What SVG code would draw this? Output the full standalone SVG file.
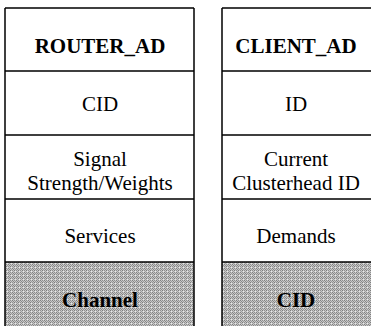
<svg xmlns="http://www.w3.org/2000/svg" width="371" height="326" viewBox="0 0 371 326">
<defs>
<pattern id="dither" width="4" height="4" patternUnits="userSpaceOnUse">
<rect width="4" height="4" fill="#c8c8c8"/>
<rect x="0" y="0" width="1" height="1" fill="#808080"/>
<rect x="2" y="0" width="1" height="1" fill="#909090"/>
<rect x="1" y="1" width="1" height="1" fill="#888"/>
<rect x="3" y="1" width="1" height="1" fill="#999"/>
<rect x="0" y="2" width="1" height="1" fill="#909090"/>
<rect x="2" y="2" width="1" height="1" fill="#7c7c7c"/>
<rect x="1" y="3" width="1" height="1" fill="#a0a0a0"/>
<rect x="3" y="3" width="1" height="1" fill="#e8e8e8"/>
</pattern>
</defs>
<style>
text{font-family:'Liberation Serif','Times New Roman',serif;font-size:21px;fill:#000;text-anchor:middle}
.b{font-weight:bold}
.ln{stroke:#000;stroke-width:1.5;fill:none}
.sh{fill:url(#dither)}
</style>
<rect width="371" height="326" fill="#fff"/>
<g id="router_ad">
<rect class="sh" x="5" y="262" width="189" height="64"/>
<path class="ln" d="M5,8 H194 M5,71 H194 M5,135 H194 M5,199 H194 M5,262 H194 M5,8 V326 M194,8 V326"/>
<text class="b" x="100" y="53">ROUTER_AD</text>
<text x="100" y="111">CID</text>
<text x="100" y="166">Signal</text>
<text x="100" y="190">Strength/Weights</text>
<text x="100" y="243">Services</text>
<text class="b" x="100" y="307">Channel</text>
</g>
<g id="client_ad">
<rect class="sh" x="222" y="262" width="150" height="64"/>
<path class="ln" d="M222,8 H372 M222,71 H372 M222,135 H372 M222,199 H372 M222,262 H372 M222,8 V326"/>
<text class="b" x="296" y="53">CLIENT_AD</text>
<text x="296" y="111">ID</text>
<text x="296" y="166">Current</text>
<text x="296" y="190">Clusterhead ID</text>
<text x="296" y="243">Demands</text>
<text class="b" x="296" y="307">CID</text>
</g>
<g id="connectors"/>
</svg>
